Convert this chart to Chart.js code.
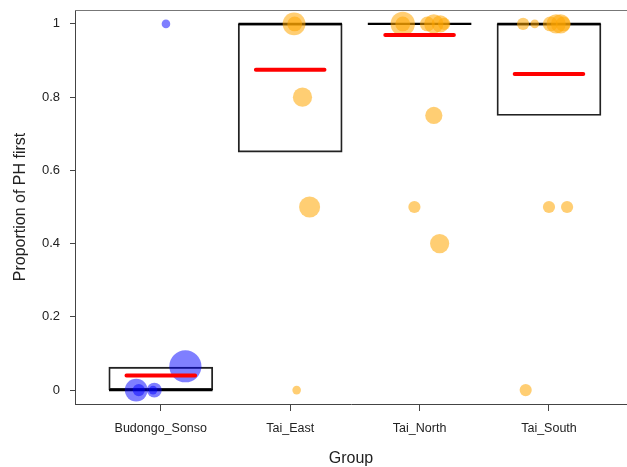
<!DOCTYPE html>
<html>
<head>
<meta charset="utf-8">
<script src="https://cdn.jsdelivr.net/npm/chart.js@4"></script>
<style>
  body { margin: 0; background: #fff; }
  #wrap { width: 627px; height: 467px; }
</style>
</head>
<body>
<div id="wrap"><canvas id="group_chart"></canvas></div>
<script>
// groups and box summaries
const groups = ["Budongo_Sonso", "Tai_East", "Tai_North", "Tai_South"];
const boxLow = [0, 0.65, 1, 0.75];
const boxHigh = [0.0625, 1, 1, 1];
const medians = [0, 1, 1, 1];
const means = [0.04, 0.875, 0.97, 0.863];

// individual points: horizontal jitter (category units), proportion, count
const budongoJitter = [0.04, 0.19, -0.19, -0.17, -0.05, -0.06];
const budongoValue = [1, 0.065, 0, 0, 0, 0];
const budongoCount = [1, 14, 7, 2, 3, 1];

const eastJitter = [0.03, 0.035, 0.095, 0.15, 0.05];
const eastValue = [1, 1, 0.8, 0.5, 0];
const eastCount = [7, 3, 5, 6, 1];

const northJitter = [-0.13, -0.13, 0.06, 0.11, 0.16, 0.19, 0.11, -0.04, 0.155];
const northValue = [1, 1, 1, 1, 1, 1, 0.75, 0.5, 0.4];
const northCount = [8, 3, 3, 5, 4, 2, 4, 2, 5];

const southJitter = [-0.2, -0.11, 0.01, 0.055, 0.09, 0.11, 0.0, 0.14, -0.18];
const southValue = [1, 1, 1, 1, 1, 1, 0.5, 0.5, 0];
const southCount = [2, 1, 3, 5, 5, 3, 2, 2, 2];

const yTicks = [0, 0.2, 0.4, 0.6, 0.8, 1];
const yTickLabels = ["0", "0.2", "0.4", "0.6", "0.8", "1"];

const BLUE = "rgba(0, 0, 255, 0.5)";
const ORANGE = "rgba(255, 165, 0, 0.55)";
const SIZE_K = 4.3;
const MEDIAN_HALF = 0.4;
const MEAN_HALF = 0.265;
const FONT = "'Liberation Sans', Arial, sans-serif";

function bubbles(groupIdx, jitter, values, counts) {
  return values.map((v, i) => ({
    x: groupIdx + 1 + jitter[i],
    y: v,
    r: SIZE_K * Math.sqrt(counts[i]),
  }));
}

function segments(values, half) {
  const out = [];
  values.forEach((v, i) => {
    out.push({ x: i + 1 - half, y: v });
    out.push({ x: i + 1 + half, y: v });
    out.push({ x: i + 1.5, y: null });
  });
  return out;
}

// R-style box: only the top edge is missing from the axes, the right one is off canvas
const topLine = {
  id: "topLine",
  afterDatasetsDraw(chart) {
    const { ctx, chartArea } = chart;
    ctx.save();
    ctx.strokeStyle = "#777";
    ctx.lineWidth = 1;
    ctx.beginPath();
    ctx.moveTo(chartArea.left, chartArea.top + 0.5);
    ctx.lineTo(chartArea.right, chartArea.top + 0.5);
    ctx.stroke();
    ctx.restore();
  },
};

function noPadding(scale) {
  scale.paddingTop = 0;
  scale.paddingBottom = 0;
  scale.paddingLeft = 0;
  scale.paddingRight = 0;
}

var canvas = document.getElementById("group_chart");

const chart = new Chart(canvas, {
  type: "bubble",
  data: {
    datasets: [
      {
        type: "bar",
        label: "IQR",
        data: groups.map((g, i) => ({ x: i + 1, y: [boxLow[i], boxHigh[i]] })),
        backgroundColor: "rgba(255,255,255,0)",
        borderColor: "#222",
        borderWidth: 1.2,
        borderSkipped: false,
        barThickness: 104,
        order: 4,
      },
      {
        type: "line",
        label: "Median",
        data: segments(medians, MEDIAN_HALF),
        borderColor: "#000",
        borderWidth: 2.2,
        pointRadius: 0,
        spanGaps: false,
        order: 3,
      },
      {
        label: "Budongo_Sonso",
        data: bubbles(0, budongoJitter, budongoValue, budongoCount),
        backgroundColor: BLUE,
        borderWidth: 0,
        order: 2,
      },
      {
        label: "Tai_East",
        data: bubbles(1, eastJitter, eastValue, eastCount),
        backgroundColor: ORANGE,
        borderWidth: 0,
        order: 2,
      },
      {
        label: "Tai_North",
        data: bubbles(2, northJitter, northValue, northCount),
        backgroundColor: ORANGE,
        borderWidth: 0,
        order: 2,
      },
      {
        label: "Tai_South",
        data: bubbles(3, southJitter, southValue, southCount),
        backgroundColor: ORANGE,
        borderWidth: 0,
        order: 2,
      },
      {
        type: "line",
        label: "Mean",
        data: segments(means, MEAN_HALF),
        borderColor: "#ff0000",
        borderWidth: 4,
        borderCapStyle: "round",
        pointRadius: 0,
        spanGaps: false,
        order: 1,
      },
    ],
  },
  options: {
    responsive: true,
    maintainAspectRatio: false,
    animation: false,
    layout: {
      autoPadding: false,
      padding: { top: 10, left: 0, right: 0, bottom: 0 },
    },
    plugins: {
      legend: { display: false },
      tooltip: { enabled: false },
    },
    scales: {
      x: {
        type: "linear",
        offset: false,
        min: 0.337,
        max: 4.603,
        afterBuildTicks: (scale) => {
          scale.ticks = groups.map((g, i) => ({ value: i + 1 }));
        },
        afterFit: (scale) => {
          scale.height = 63;
          noPadding(scale);
        },
        ticks: {
          callback: (v) => groups[Math.round(v) - 1],
          color: "#222",
          font: { family: FONT, size: 12.5 },
          padding: 10,
          maxRotation: 0,
          autoSkip: false,
        },
        grid: {
          offset: false,
          drawOnChartArea: false,
          drawTicks: true,
          tickLength: 7,
          color: "#444",
        },
        border: { display: true, color: "#444", width: 1 },
        title: {
          display: true,
          text: "Group",
          color: "#222",
          font: { family: FONT, size: 16, lineHeight: 1 },
          padding: { top: 0, bottom: 0 },
        },
      },
      y: {
        type: "linear",
        min: -0.038,
        max: 1.038,
        afterBuildTicks: (scale) => {
          scale.ticks = yTicks.map((v) => ({ value: v }));
        },
        afterFit: (scale) => {
          scale.width = 75;
          noPadding(scale);
        },
        ticks: {
          callback: (v) => yTickLabels[yTicks.indexOf(v)],
          color: "#222",
          font: { family: FONT, size: 13 },
          padding: 10,
        },
        grid: {
          drawOnChartArea: false,
          drawTicks: true,
          tickLength: 5,
          color: "#444",
        },
        border: { display: true, color: "#444", width: 1 },
        title: {
          display: true,
          text: "Proportion of PH first",
          color: "#222",
          font: { family: FONT, size: 16 },
          padding: { top: 11, bottom: 0 },
        },
      },
    },
  },
  plugins: [topLine],
});
</script>
</body>
</html>
